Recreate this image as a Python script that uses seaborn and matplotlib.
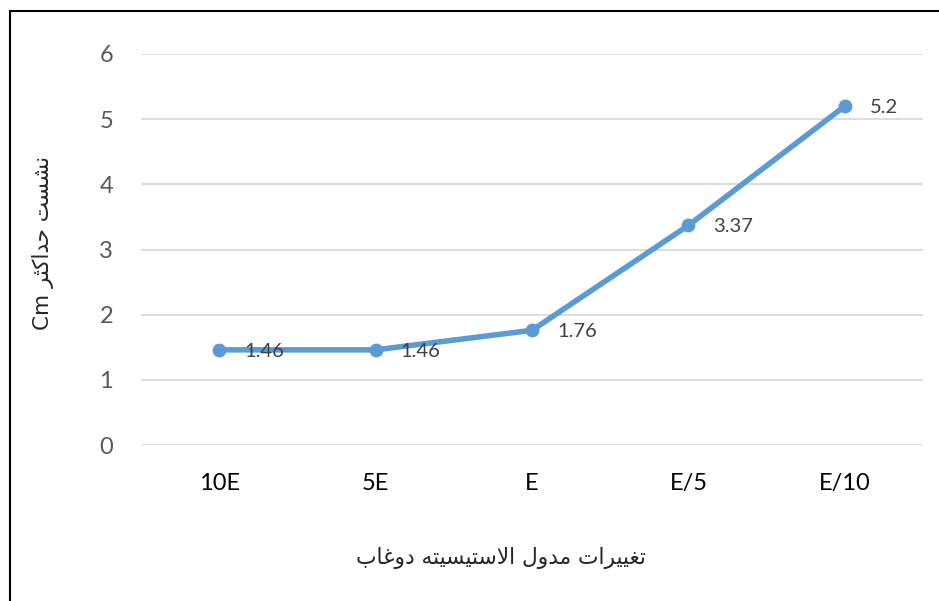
import matplotlib
matplotlib.use("Agg")
from matplotlib import pyplot as plt
from matplotlib.patches import Rectangle
import pandas as pd
import seaborn as sns

# داده ها
categories = ["10E", "5E", "E", "E/5", "E/10"]
settlement = [1.46, 1.46, 1.76, 3.37, 5.2]
value_labels = ["1.46", "1.46", "1.76", "3.37", "5.2"]
y_ticks = [0, 1, 2, 3, 4, 5, 6]

x_title = "تغییرات مدول الاستیسیته دوغاب"
y_title = "نشست حداکثر"
y_unit = "Cm"

# شکل های حروف (تنها، پایانی، آغازی، میانی)
FORMS = {
    'ا': ('\uFE8D', '\uFE8E', None, None),
    'ب': ('\uFE8F', '\uFE90', '\uFE91', '\uFE92'),
    'ت': ('\uFE95', '\uFE96', '\uFE97', '\uFE98'),
    'ث': ('\uFE99', '\uFE9A', '\uFE9B', '\uFE9C'),
    'ح': ('\uFEA1', '\uFEA2', '\uFEA3', '\uFEA4'),
    'د': ('\uFEA9', '\uFEAA', None, None),
    'ر': ('\uFEAD', '\uFEAE', None, None),
    'س': ('\uFEB1', '\uFEB2', '\uFEB3', '\uFEB4'),
    'ش': ('\uFEB5', '\uFEB6', '\uFEB7', '\uFEB8'),
    'غ': ('\uFECD', '\uFECE', '\uFECF', '\uFED0'),
    'ل': ('\uFEDD', '\uFEDE', '\uFEDF', '\uFEE0'),
    'م': ('\uFEE1', '\uFEE2', '\uFEE3', '\uFEE4'),
    'ن': ('\uFEE5', '\uFEE6', '\uFEE7', '\uFEE8'),
    'ه': ('\uFEE9', '\uFEEA', '\uFEEB', '\uFEEC'),
    'و': ('\uFEED', '\uFEEE', None, None),
    'ی': ('\uFBFC', '\uFBFD', '\uFBFE', '\uFBFF'),
    'ک': ('\uFB8E', '\uFB8F', '\uFB90', '\uFB91'),
}


def shape(text):
    out = []
    i = 0
    n = len(text)
    while i < n:
        c = text[i]
        if c not in FORMS:
            out.append(c)
            i += 1
            continue
        prev = text[i - 1] if i > 0 else None
        joins_prev = prev in FORMS and FORMS[prev][2] is not None
        if c == 'ل' and i + 1 < n and text[i + 1] == 'ا':
            out.append('\uFEFC' if joins_prev else '\uFEFB')
            i += 2
            continue
        nxt = text[i + 1] if i + 1 < n else None
        joins_next = FORMS[c][2] is not None and nxt in FORMS
        iso, fin, ini, med = FORMS[c]
        if joins_prev and joins_next:
            out.append(med)
        elif joins_prev:
            out.append(fin)
        elif joins_next:
            out.append(ini)
        else:
            out.append(iso)
        i += 1
    return ''.join(reversed(out))


sns.set_style("white")
plt.rcParams['font.family'] = ['Lato', 'DejaVu Sans']

df = pd.DataFrame({"cat": categories, "val": settlement})

fig = plt.figure(figsize=(9.39, 6.01), dpi=100)
ax = fig.add_axes([141 / 939, 1 - 445 / 601, (923 - 141) / 939, (445 - 54) / 601])

sns.lineplot(data=df, x="cat", y="val", ax=ax, color="#5B9BD5", lw=4,
             marker="o", markersize=10, markeredgewidth=0, sort=False, zorder=3)

for i, (v, lab) in enumerate(zip(settlement, value_labels)):
    ax.annotate(lab, (i, v), xytext=(18, -1), textcoords="offset points",
                ha="left", va="center", fontsize=14.5, color="#404040", zorder=4)

ax.set_xlim(-0.5, len(categories) - 0.5)
ax.set_ylim(0, 6)
ax.set_yticks(y_ticks)
ax.set_yticklabels([str(t) for t in y_ticks])
ax.yaxis.grid(True, color="#d9d9d9", lw=1.3)
ax.xaxis.grid(False)
for s in ax.spines.values():
    s.set_visible(False)
ax.tick_params(axis="y", length=0, pad=20, labelsize=17, labelcolor="#595959")
ax.tick_params(axis="x", length=0, pad=20, labelsize=17, labelcolor="#000000")
ax.set_xlabel("")
ax.set_ylabel("")

fig.text(501 / 939, 1 - 558 / 601, shape(x_title), ha="center", va="center",
         fontsize=15.7, family=["DejaVu Sans"])
fig.text(43 / 939, 1 - 243 / 601, y_unit + " " + shape(y_title), ha="center",
         va="center", rotation=90, fontsize=15.5, family=["DejaVu Sans"])

fig.patches.append(Rectangle((9.5 / 939, -0.1), 1.2, 1.1 - 10.5 / 601, fill=False,
                             ec="black", lw=1.5, transform=fig.transFigure))

fig.savefig("out.png", dpi=100)
